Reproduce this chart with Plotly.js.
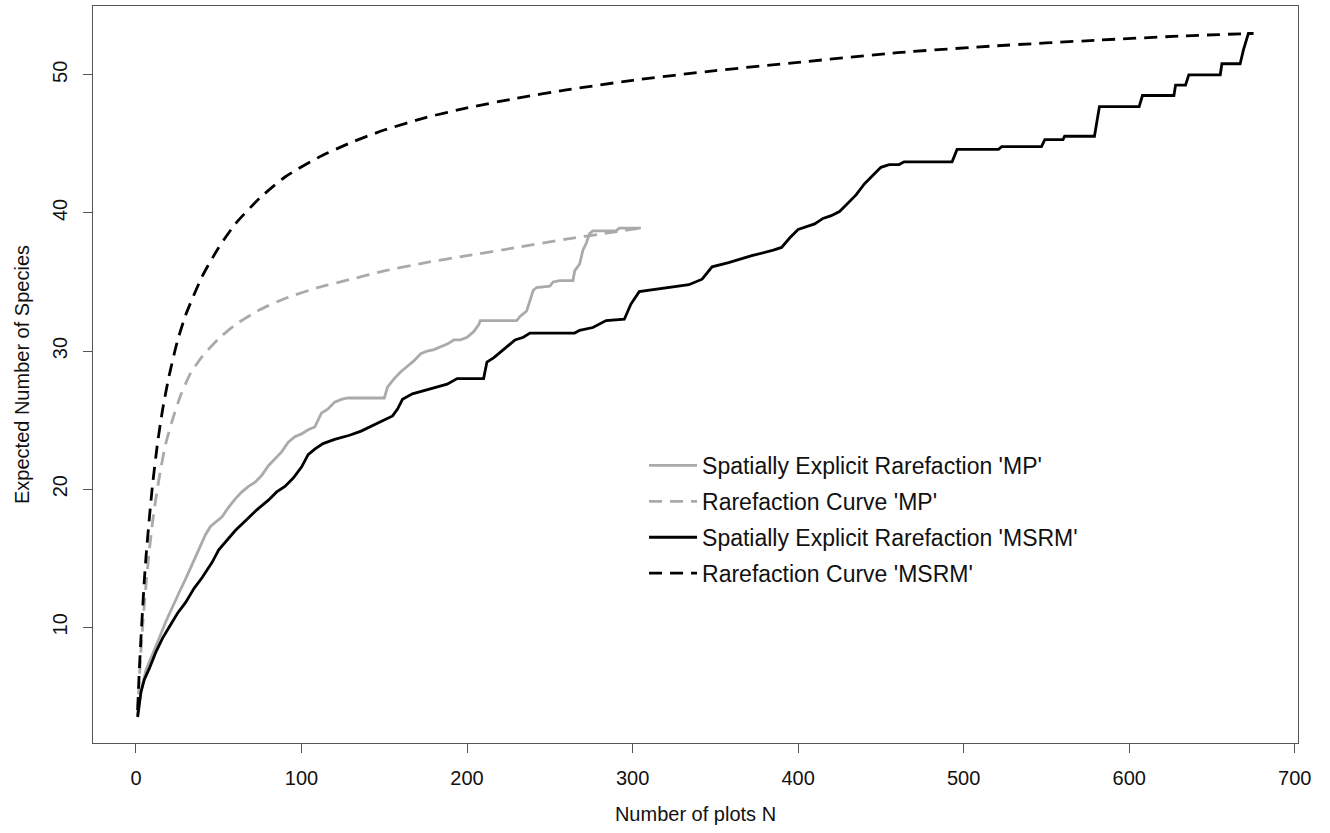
<!DOCTYPE html>
<html>
<head>
<meta charset="utf-8">
<script src="https://cdn.plot.ly/plotly-3.0.1.min.js"></script>
<style>
  html, body { margin: 0; padding: 0; background: #ffffff; }
  #chart { width: 1330px; height: 833px; }
</style>
</head>
<body>
<div id="chart"></div>
<script>
// Legend / series names
const seriesNames = [
  "Spatially Explicit Rarefaction 'MP'",
  "Rarefaction Curve 'MP'",
  "Spatially Explicit Rarefaction 'MSRM'",
  "Rarefaction Curve 'MSRM'"
];

// Spatially Explicit Rarefaction 'MP' (grey, solid)
const seMP_N = [1, 3, 6, 10, 14, 18, 22, 26, 30, 34, 38, 42, 45, 48, 52, 56, 60, 64, 68, 72, 76, 80, 84, 88, 92, 96, 100, 104, 108, 112, 116, 120, 124, 128, 150, 152, 156, 160, 164, 168, 172, 176, 180, 184, 188, 192, 196, 200, 204, 207, 208, 230, 232, 236, 240, 242, 250, 252, 256, 264, 265, 268, 270, 272, 274, 276, 290, 292, 305];
const seMP_S = [3.6, 5.3, 6.9, 8.0, 9.2, 10.4, 11.5, 12.5, 13.5, 14.6, 15.6, 16.7, 17.3, 17.6, 18.0, 18.7, 19.3, 19.8, 20.2, 20.5, 21.0, 21.7, 22.2, 22.7, 23.4, 23.8, 24.0, 24.3, 24.5, 25.5, 25.8, 26.3, 26.5, 26.6, 26.6, 27.4, 28.0, 28.5, 28.9, 29.3, 29.8, 30.0, 30.1, 30.3, 30.5, 30.8, 30.8, 31.0, 31.4, 31.9, 32.2, 32.2, 32.5, 32.9, 34.4, 34.6, 34.7, 35.0, 35.1, 35.1, 35.8, 36.3, 37.3, 37.8, 38.5, 38.7, 38.7, 38.9, 38.9];

// Rarefaction Curve 'MP' (grey, dashed)
const rcMP_N = [1, 2, 3, 4, 5, 6, 8, 10, 12, 15, 18, 22, 27, 33, 40, 50, 60, 75, 90, 110, 130, 150, 175, 200, 230, 260, 285, 305];
const rcMP_S = [3.6, 6.2, 8.3, 10.0, 11.6, 13.0, 15.5, 17.6, 19.3, 21.5, 23.3, 25.0, 26.8, 28.4, 29.6, 30.9, 31.9, 33.0, 33.8, 34.6, 35.2, 35.8, 36.4, 36.9, 37.5, 38.1, 38.55, 38.9];

// Spatially Explicit Rarefaction 'MSRM' (black, solid)
const seMSRM_N = [1, 2, 3, 5, 8, 12, 16, 20, 25, 30, 35, 40, 46, 50, 55, 60, 66, 73, 80, 85, 90, 95, 100, 104, 108, 113, 120, 129, 136, 143, 150, 155, 158, 161, 167, 173, 180, 188, 194, 210, 212, 216, 220, 225, 229, 234, 238, 265, 268, 276, 284, 295, 299, 304, 310, 323, 334, 342, 348, 358, 372, 385, 390, 395, 400, 410, 415, 420, 425, 430, 435, 440, 445, 450, 455, 461, 464, 493, 496, 521, 523, 547, 549, 560, 561, 579, 582, 606, 608, 627, 628, 634, 636, 655, 656, 667, 669, 672, 675];
const seMSRM_S = [3.5, 4.6, 5.3, 6.2, 7.0, 8.2, 9.2, 10.0, 11.0, 11.8, 12.8, 13.6, 14.7, 15.6, 16.3, 17.0, 17.7, 18.5, 19.2, 19.8, 20.2, 20.8, 21.6, 22.5, 22.9, 23.3, 23.6, 23.9, 24.2, 24.6, 25.0, 25.3, 25.8, 26.5, 26.9, 27.1, 27.3, 27.6, 28.0, 28.0, 29.2, 29.5, 29.9, 30.4, 30.8, 31.0, 31.3, 31.3, 31.5, 31.7, 32.2, 32.3, 33.4, 34.3, 34.4, 34.6, 34.8, 35.2, 36.1, 36.4, 36.9, 37.3, 37.5, 38.2, 38.8, 39.2, 39.6, 39.8, 40.1, 40.7, 41.3, 42.1, 42.7, 43.3, 43.5, 43.5, 43.7, 43.7, 44.6, 44.6, 44.8, 44.8, 45.3, 45.3, 45.55, 45.55, 47.7, 47.7, 48.5, 48.5, 49.25, 49.25, 50.0, 50.0, 50.8, 50.8, 51.8, 53.0, 53.0];

// Rarefaction Curve 'MSRM' (black, dashed)
const rcMSRM_N = [1, 2, 3, 4, 5, 6, 8, 10, 13, 16, 20, 25, 30, 40, 50, 60, 75, 90, 110, 130, 150, 175, 200, 230, 260, 300, 350, 400, 460, 520, 580, 630, 675];
const rcMSRM_S = [4.0, 6.8, 9.2, 11.3, 13.3, 15.0, 17.8, 20.3, 23.3, 25.7, 28.2, 30.7, 32.6, 35.4, 37.5, 39.2, 41.1, 42.6, 44.0, 45.1, 46.0, 46.9, 47.6, 48.3, 48.9, 49.6, 50.3, 50.9, 51.6, 52.1, 52.5, 52.8, 53.0];

// Axis ticks
const xTicks = [0, 100, 200, 300, 400, 500, 600, 700];
const yTicks = [10, 20, 30, 40, 50];

const GREY = '#aaaaaa';
const FONT = 'Liberation Sans, Arial, Helvetica, sans-serif';

const traces = [
  { x: seMP_N, y: seMP_S, name: seriesNames[0], legendgroup: 'a',
    type: 'scatter', mode: 'lines', line: { color: GREY, width: 2.8 } },
  { x: rcMP_N, y: rcMP_S, name: seriesNames[1], legendgroup: 'b',
    type: 'scatter', mode: 'lines', line: { color: GREY, width: 2.8, dash: '13px,8px', shape: 'spline', smoothing: 0.6 } },
  { x: seMSRM_N, y: seMSRM_S, name: seriesNames[2], legendgroup: 'c',
    type: 'scatter', mode: 'lines', line: { color: '#000000', width: 2.8 } },
  { x: rcMSRM_N, y: rcMSRM_S, name: seriesNames[3], legendgroup: 'd',
    type: 'scatter', mode: 'lines', line: { color: '#000000', width: 2.8, dash: '13px,8px', shape: 'spline', smoothing: 0.6 } }
];

const axisCommon = {
  showgrid: false, zeroline: false,
  showline: true, mirror: true, linecolor: '#555555', linewidth: 1,
  ticks: 'outside', ticklen: 9, tickcolor: '#555555', tickwidth: 1,
  tickfont: { family: FONT, size: 20, color: '#111111' }
};

const layout = {
  width: 1330, height: 833,
  paper_bgcolor: '#ffffff', plot_bgcolor: '#ffffff',
  margin: { l: 93, r: 32, t: 6, b: 90 },
  showlegend: true,
  legend: {
    x: 0.4573, y: 0.4057, xanchor: 'left', yanchor: 'top',
    traceorder: 'grouped', tracegroupgap: 3,
    itemwidth: 48,
    bgcolor: 'rgba(0,0,0,0)',
    font: { family: FONT, size: 23, color: '#111111' }
  },
  xaxis: Object.assign({}, axisCommon, {
    range: [-25.96, 701.96],
    tickmode: 'array', tickvals: xTicks, ticktext: xTicks.map(String),
    ticklabelstandoff: 8,
    title: { text: 'Number of plots N', font: { family: FONT, size: 20, color: '#111111' }, standoff: 18 }
  }),
  yaxis: Object.assign({}, axisCommon, {
    range: [1.62, 54.98],
    tickmode: 'array', tickvals: yTicks, ticktext: yTicks.map(String),
    tickangle: -90,
    ticklabelstandoff: 8,
    title: { text: 'Expected Number of Species', font: { family: FONT, size: 20, color: '#111111' }, standoff: 14 }
  })
};

Plotly.newPlot('chart', traces, layout, { staticPlot: true, displayModeBar: false });
</script>
</body>
</html>
